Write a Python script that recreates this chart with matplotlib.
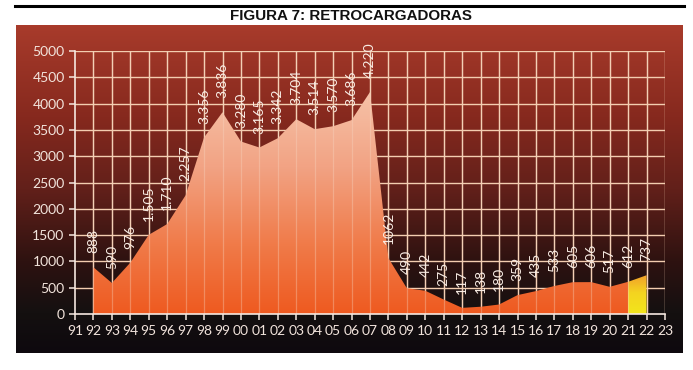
import numpy as np
import matplotlib
matplotlib.use("Agg")
import matplotlib.pyplot as plt
from matplotlib.colors import LinearSegmentedColormap
from matplotlib.patches import Polygon

years = list(range(1992, 2023))
values = [888, 590, 976, 1505, 1710, 2257, 3356, 3836, 3280, 3165, 3342, 3704,
          3514, 3570, 3686, 4220, 1062, 490, 442, 275, 117, 138, 180, 359, 435,
          533, 605, 606, 517, 612, 737]
labels = ["888", "590", "976", "1.505", "1.710", "2.257", "3.356", "3.836", "3.280",
          "3.165", "3.342", "3.704", "3.514", "3.570", "3.686", "4.220", "1062",
          "490", "442", "275", "117", "138", "180", "359", "435", "533", "605",
          "606", "517", "612", "737"]
tick_years = list(range(1991, 2024))
tick_labels = [f"{y % 100:02d}" for y in tick_years]
title = "FIGURA 7: RETROCARGADORAS"

W, H = 693, 370
fig = plt.figure(figsize=(W / 100, H / 100), dpi=100)
fig.patch.set_facecolor("white")

def fx(px):
    return px / W

def fy(py):
    return 1 - py / H

# top black rule
fig.add_artist(plt.Line2D([fx(15), fx(684)], [fy(6), fy(6)], color="black", lw=2.2))
fig.text(fx(351), fy(16.5), title, ha="center", va="center", fontsize=10.9,
         fontweight="bold", family="Liberation Sans", color="#111111")

# background panel gradient
bg = fig.add_axes([fx(16), fy(353), fx(683) - fx(16), fy(25) - fy(353)])
bg_cmap = LinearSegmentedColormap.from_list(
    "bg", [(0, "#0e090e"), (0.12, "#141010"), (0.28, "#2e1210"), (0.5, "#62201a"),
           (0.72, "#86291e"), (1, "#a83b2b")])
grad = np.linspace(0, 1, 256).reshape(-1, 1)
bg.imshow(grad, aspect="auto", cmap=bg_cmap, origin="lower", extent=[0, 1, 0, 1])
bg.set_axis_off()

# main axes
x0, x1 = 75, 665
y0, y1 = 314, 51
ax = fig.add_axes([fx(x0), fy(y0), fx(x1) - fx(x0), fy(y1) - fy(y0)])
ax.patch.set_alpha(0)
ax.set_xlim(1991, 2023)
ax.set_ylim(0, 5000)

grid_c = "#f3cdb0"
for yv in range(500, 5001, 500):
    ax.axhline(yv, color=grid_c, lw=1.0, zorder=1)
for xv in tick_years[1:]:
    ax.axvline(xv, color=grid_c, lw=1.0, zorder=1)

# main area with vertical gradient
xs = np.array(years[:-1], dtype=float)
vs = np.array(values[:-1], dtype=float)
verts = [(xs[0], 0)] + list(zip(xs, vs)) + [(xs[-1], 0)]
poly = Polygon(verts, closed=True, facecolor="none", edgecolor="none")
ax.add_patch(poly)
area_cmap = LinearSegmentedColormap.from_list(
    "area", [(0, "#ee5a20"), (0.3, "#f07a48"), (0.65, "#f2a384"), (1, "#f6c4aa")])
im = ax.imshow(np.linspace(0, 1, 256).reshape(-1, 1), aspect="auto", cmap=area_cmap,
               origin="lower", extent=[1991, 2023, 0, 4300], zorder=2)
im.set_clip_path(poly)

# last segment in yellow
verts2 = [(years[-2], 0), (years[-2], values[-2]), (years[-1], values[-1]), (years[-1], 0)]
poly2 = Polygon(verts2, closed=True, facecolor="none", edgecolor="none")
ax.add_patch(poly2)
y_cmap = LinearSegmentedColormap.from_list("yel", [(0, "#f2e51c"), (0.55, "#f4d420"), (1, "#f1a12a")])
im2 = ax.imshow(np.linspace(0, 1, 64).reshape(-1, 1), aspect="auto", cmap=y_cmap,
                origin="lower", extent=[years[-2], years[-1], 0, values[-1]], zorder=2)
im2.set_clip_path(poly2)

# faint vertical gridlines over the area
for xv in tick_years[1:-1]:
    ax.axvline(xv, color="#f8d8c4", lw=0.9, alpha=0.35, zorder=3)
ax.set_ylim(0, 5000)
ax.set_xlim(1991, 2023)

# data labels
for x, v, lab in zip(years, values, labels):
    ax.annotate(lab, (x, v), xytext=(0, 10), textcoords="offset points", rotation=90,
                ha="center", va="bottom", fontsize=10, color="#f8ece4", family="Lato",
                zorder=5)

for s in ["top", "right"]:
    ax.spines[s].set_visible(False)
for s in ["left", "bottom"]:
    ax.spines[s].set_color("#f6e8e0")
    ax.spines[s].set_linewidth(1.2)
    ax.spines[s].set_zorder(4)

ax.set_xticks(tick_years)
ax.set_xticklabels(tick_labels)
ax.set_yticks(range(0, 5001, 500))
ax.tick_params(axis="both", colors="#f6e8e0", labelcolor="#f2e4dc", labelsize=10,
               length=4, width=1.1, direction="out")
ax.tick_params(axis="x", pad=4)
for t in ax.get_xticklabels() + ax.get_yticklabels():
    t.set_family("Lato")

fig.savefig("out.png", dpi=100, facecolor="white")
